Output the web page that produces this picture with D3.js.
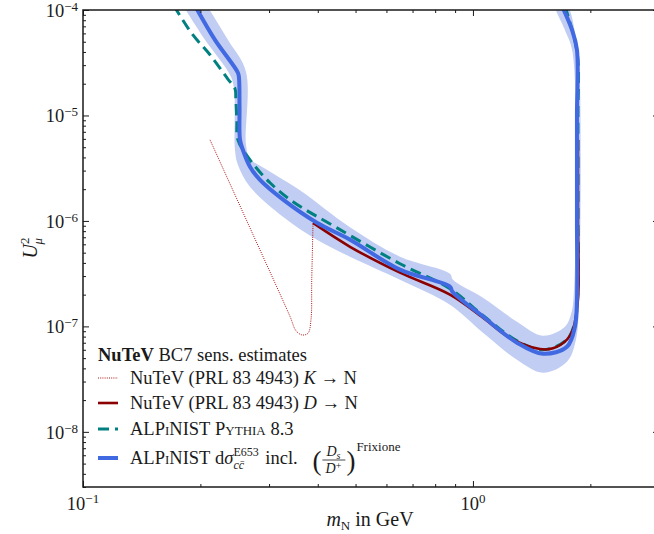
<!DOCTYPE html>
<html>
<head>
<meta charset="utf-8">
<script src="https://cdn.jsdelivr.net/npm/d3@7"></script>
<style>
  body { margin: 0; background: #fff; }
  text { font-family: "Liberation Serif", "Times New Roman", serif; fill: #1a1a1a; }
</style>
</head>
<body>
<div id="chart"></div>
<script>
// values (m_N in GeV, U^2_mu)
var bluePoints = [
  [0.1937, 1.1e-4], [0.218, 5.2e-5], [0.2496, 2.54e-5], [0.2512, 2.28e-5], [0.252, 1.2e-5],
  [0.2527, 5.9e-6], [0.257, 4.73e-6], [0.268, 3.27e-6], [0.284, 2.46e-6], [0.326, 1.59e-6],
  [0.398, 9.6e-7], [0.484, 6.63e-7], [0.65, 3.45e-7], [0.873, 2.38e-7], [0.886, 2.13e-7],
  [1.061, 1.24e-7], [1.297, 7.0e-8], [1.512, 5.5e-8], [1.742, 6.4e-8], [1.826, 9.9e-8],
  [1.848, 1.79e-7], [1.848, 1e-6], [1.848, 1e-5], [1.848, 4.2e-5], [1.794, 6.5e-5], [1.69, 1.1e-4]
];
var bandOuter = [
  [0.1805, 1.1e-4], [0.2055, 5.22e-5], [0.2381, 2.43e-5], [0.2438, 1.83e-5], [0.2453, 4.73e-6],
  [0.2496, 3.41e-6], [0.268, 2.11e-6], [0.3257, 1.096e-6], [0.398, 6.63e-7], [0.4838, 4.58e-7],
  [0.65, 2.77e-7], [0.873, 1.606e-7], [1.061, 8.71e-8], [1.297, 4.83e-8], [1.512, 3.64e-8],
  [1.742, 4.63e-8], [1.837, 7.48e-8], [1.87, 1.79e-7], [1.87, 3.5e-5], [1.83, 6.0e-5], [1.74, 1.1e-4]
];
var bandInner = [
  [1.63, 1.1e-4], [1.72, 6.5e-5], [1.80, 4.0e-5], [1.81, 1.79e-7], [1.783, 1.29e-7],
  [1.722, 9.94e-8], [1.512, 8.16e-8], [1.297, 1.108e-7], [1.061, 1.87e-7], [0.889, 2.77e-7],
  [0.873, 3.16e-7], [0.65, 4.58e-7], [0.4838, 8.7e-7], [0.36, 1.95e-6], [0.2963, 3.05e-6],
  [0.268, 3.9e-6], [0.2618, 5.27e-6], [0.2618, 2.6e-5], [0.2353, 5.22e-5], [0.2079, 1.1e-4]
];
var pythiaPoints = [
  [0.171, 1.1e-4], [0.19, 6.0e-5], [0.2117, 3.76e-5], [0.2355, 2.2e-5], [0.2453, 1.8e-5],
  [0.2466, 1.41e-5], [0.248, 9e-6], [0.2496, 5.89e-6], [0.268, 3.8e-6], [0.3017, 2.3e-6],
  [0.3455, 1.52e-6], [0.448, 8.6e-7], [0.65, 3.93e-7], [0.873, 2.28e-7], [1.061, 1.27e-7],
  [1.297, 7.3e-8], [1.512, 6.0e-8], [1.742, 7.5e-8], [1.826, 1.1e-7], [1.859, 2.2e-7],
  [1.859, 1e-6], [1.859, 1e-5], [1.859, 3.37e-5], [1.81, 5.8e-5], [1.72, 1.1e-4]
];
var nutevD = [
  [0.389, 9.57e-7], [0.484, 5.69e-7], [0.65, 3.23e-7], [0.873, 2.0e-7], [1.061, 1.21e-7],
  [1.244, 7.8e-8], [1.485, 6.1e-8], [1.604, 6.2e-8], [1.742, 7.5e-8], [1.804, 9.3e-8],
  [1.859, 1.79e-7], [1.859, 1e-6], [1.859, 5.9e-6]
];
var nutevK = [
  [0.2117, 5.87e-6], [0.268, 8.6e-7], [0.3396, 1.24e-7], [0.3517, 9.1e-8], [0.3643, 8.3e-8],
  [0.3775, 8.6e-8], [0.3843, 1.16e-7], [0.386, 2.77e-7], [0.389, 9.57e-7]
];

var xMajor = [0.1, 1];
var xMajorLabels = [["10", "\u22121"], ["10", "0"]];
var yMajor = [1e-8, 1e-7, 1e-6, 1e-5, 1e-4];
var yMajorLabels = [["10", "\u22128"], ["10", "\u22127"], ["10", "\u22126"], ["10", "\u22125"], ["10", "\u22124"]];

(function() {
  var width = 654, height = 534;
  var pLeft = 83, pRight = 659, pTop = 10, pBottom = 487;

  var svg = d3.select("#chart").append("svg")
    .attr("width", width)
    .attr("height", height);

  var x = d3.scaleLog().domain([0.1, 3]).range([pLeft, pRight]);
  var y = d3.scaleLog().domain([3e-9, 1e-4]).range([pBottom, pTop]);

  svg.append("clipPath").attr("id", "clip")
    .append("rect")
    .attr("x", pLeft).attr("y", pTop)
    .attr("width", pRight - pLeft).attr("height", pBottom - pTop);

  var plot = svg.append("g").attr("clip-path", "url(#clip)");

  var line = d3.line()
    .x(function(d) { return x(d[0]) })
    .y(function(d) { return y(d[1]) })
    .curve(d3.curveCatmullRom.alpha(0.5));

  // uncertainty band
  plot.append("path")
    .attr("d", line(bandOuter.concat(bandInner)) + "Z")
    .attr("fill", "#c1cdf3")
    .attr("stroke", "none");

  plot.append("path")
    .attr("d", line(nutevK))
    .attr("fill", "none")
    .attr("stroke", "#b01010")
    .attr("stroke-width", 1)
    .attr("stroke-dasharray", "1,1.2");

  plot.append("path")
    .attr("d", line(pythiaPoints))
    .attr("fill", "none")
    .attr("stroke", "#008080")
    .attr("stroke-width", 3)
    .attr("stroke-dasharray", "11,6");

  plot.append("path")
    .attr("d", line(nutevD))
    .attr("fill", "none")
    .attr("stroke", "#8b0000")
    .attr("stroke-width", 2.6);

  plot.append("path")
    .attr("d", line(bluePoints))
    .attr("fill", "none")
    .attr("stroke", "#4169e1")
    .attr("stroke-width", 4);

  // ticks, all pointing inward
  var xMinor = x.ticks().filter(function(v) { return xMajor.indexOf(v) < 0 });
  var yMinor = y.ticks().filter(function(v) { return yMajor.indexOf(v) < 0 });

  function drawAxis(axisFn, scale, pos, major, minor) {
    var gMaj = svg.append("g").attr("transform", pos)
      .call(axisFn(scale).tickValues(major).tickSize(-6).tickFormat(""));
    var gMin = svg.append("g").attr("transform", pos)
      .call(axisFn(scale).tickValues(minor).tickSize(-3).tickFormat(""));
    [gMaj, gMin].forEach(function(g) {
      g.select(".domain").remove();
      g.selectAll("line").attr("stroke", "#1a1a1a").attr("stroke-width", 1);
    });
  }
  drawAxis(d3.axisBottom, x, "translate(0," + pBottom + ")", xMajor, xMinor);
  drawAxis(d3.axisTop, x, "translate(0," + pTop + ")", xMajor, xMinor);
  drawAxis(d3.axisLeft, y, "translate(" + pLeft + ",0)", yMajor, yMinor);
  drawAxis(d3.axisRight, y, "translate(" + pRight + ",0)", yMajor, yMinor);

  svg.append("rect")
    .attr("x", pLeft).attr("y", pTop)
    .attr("width", pRight - pLeft).attr("height", pBottom - pTop)
    .attr("fill", "none")
    .attr("stroke", "#1a1a1a")
    .attr("stroke-width", 1.5);

  // tick labels
  var xl = svg.selectAll(".xlab")
    .data(xMajor)
    .enter().append("text")
    .attr("class", "xlab")
    .attr("x", function(d) { return x(d) })
    .attr("y", 510)
    .style("text-anchor", "middle")
    .style("font-size", "18.5px");
  xl.append("tspan").text(function(d, i) { return xMajorLabels[i][0] });
  xl.append("tspan").attr("dy", -7).style("font-size", "13px")
    .text(function(d, i) { return xMajorLabels[i][1] });

  var yl = svg.selectAll(".ylab")
    .data(yMajor)
    .enter().append("text")
    .attr("class", "ylab")
    .attr("x", 78)
    .attr("y", function(d) { return y(d) + 7 })
    .style("text-anchor", "end")
    .style("font-size", "18.5px");
  yl.append("tspan").text(function(d, i) { return yMajorLabels[i][0] });
  yl.append("tspan").attr("dy", -6).style("font-size", "13px")
    .text(function(d, i) { return yMajorLabels[i][1] });

  // axis titles
  var xt = svg.append("text")
    .attr("x", 370)
    .attr("y", 526)
    .style("text-anchor", "middle")
    .style("font-size", "20px");
  xt.append("tspan").style("font-style", "italic").text("m");
  xt.append("tspan").attr("dy", 4).style("font-size", "13px").text("N");
  xt.append("tspan").attr("dy", -4).text(" in GeV");

  var yt = svg.append("text")
    .attr("transform", "translate(37,248) rotate(-90)")
    .style("text-anchor", "middle")
    .style("font-size", "20px");
  yt.append("tspan").style("font-style", "italic").text("U");
  yt.append("tspan").attr("dy", -8).style("font-size", "13px").text("2");
  yt.append("tspan").attr("dx", -7).attr("dy", 13).style("font-size", "13px").style("font-style", "italic").text("\u03bc");

  // legend
  var legendRows = [
    { y: 378, color: "#b01010", w: 1, dash: "1,1.2" },
    { y: 403, color: "#8b0000", w: 2.6, dash: null },
    { y: 429, color: "#008080", w: 3, dash: "11,6" },
    { y: 458, color: "#4169e1", w: 4, dash: null }
  ];
  var legendFont = "18.5px";

  var title = svg.append("text").attr("x", 98).attr("y", 361).style("font-size", legendFont);
  title.append("tspan").style("font-weight", "bold").text("NuTeV");
  title.append("tspan").text(" BC7 sens. estimates");

  svg.selectAll(".legendline")
    .data(legendRows)
    .enter().append("line")
    .attr("class", "legendline")
    .attr("x1", 98)
    .attr("x2", 118)
    .attr("y1", function(d) { return d.y })
    .attr("y2", function(d) { return d.y })
    .attr("stroke", function(d) { return d.color })
    .attr("stroke-width", function(d) { return d.w })
    .attr("stroke-dasharray", function(d) { return d.dash });

  var tx = 130;
  [["K", 384], ["D", 409]].forEach(function(r) {
    var t = svg.append("text").attr("x", tx).attr("y", r[1]).style("font-size", legendFont);
    t.append("tspan").text("NuTeV (PRL 83 4943) ");
    t.append("tspan").style("font-style", "italic").text(r[0]);
    t.append("tspan").text(" \u2192 N");
  });

  var t3 = svg.append("text").attr("x", tx).attr("y", 435).style("font-size", legendFont);
  t3.append("tspan").style("font-variant", "small-caps").text("ALPiNIST");
  t3.append("tspan").text(" ");
  t3.append("tspan").style("font-variant", "small-caps").text("Pythia");
  t3.append("tspan").text(" 8.3");

  var t4 = svg.append("text").attr("x", tx).attr("y", 464).style("font-size", legendFont);
  t4.append("tspan").style("font-variant", "small-caps").text("ALPiNIST");
  t4.append("tspan").text(" d");
  t4.append("tspan").style("font-style", "italic").text("\u03c3");
  var sup = t4.append("tspan").attr("dy", -8).style("font-size", "12px").text("E653");
  var supW = sup.node().getComputedTextLength();
  var sub = t4.append("tspan").attr("dx", -supW).attr("dy", 13).style("font-size", "12px").style("font-style", "italic").text("cc\u0304");
  var subW = sub.node().getComputedTextLength();
  t4.append("tspan").attr("dx", Math.max(0, supW - subW) + 2).attr("dy", -5).text(" incl. ");

  var xf = tx + t4.node().getComputedTextLength() + 6;
  svg.append("text").attr("x", xf).attr("y", 470).style("font-size", "27px").text("(");
  var num = svg.append("text").attr("x", xf + 21).attr("y", 456).style("font-size", "14px").style("text-anchor", "middle");
  num.append("tspan").style("font-style", "italic").text("D");
  num.append("tspan").attr("dy", 3).style("font-size", "10px").style("font-style", "italic").text("s");
  svg.append("line")
    .attr("x1", xf + 10).attr("x2", xf + 33)
    .attr("y1", 460).attr("y2", 460)
    .attr("stroke", "#1a1a1a").attr("stroke-width", 0.8);
  var den = svg.append("text").attr("x", xf + 21).attr("y", 473).style("font-size", "14px").style("text-anchor", "middle");
  den.append("tspan").style("font-style", "italic").text("D");
  den.append("tspan").attr("dy", -4).style("font-size", "10px").text("+");
  svg.append("text").attr("x", xf + 34).attr("y", 470).style("font-size", "27px").text(")");
  svg.append("text").attr("x", xf + 44).attr("y", 451).style("font-size", "13px").text("Frixione");
})();
</script>
</body>
</html>
